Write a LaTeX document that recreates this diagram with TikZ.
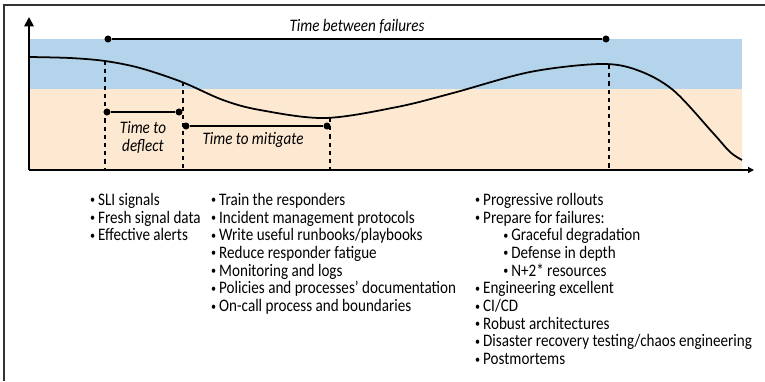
\documentclass[tikz,border=0pt]{standalone}
\usepackage{fontspec}
\setmainfont{Carlito}[FakeStretch=0.86]
\usetikzlibrary{positioning, calc, arrows.meta}
\definecolor{okblue}{HTML}{B3D4EA}
\definecolor{warnpeach}{HTML}{FDE8D2}
\tikzset{span line/.style={line width=1.6pt, black}}
\tikzset{span dot/.style={circle, fill=black, inner sep=0pt, minimum size=6pt}}
\tikzset{drop line/.style={line width=1.6pt, dash pattern=on 3.5pt off 3.5pt}}
\tikzset{span label/.style={font=\itshape\fontsize{15}{15.5}\selectfont, inner sep=0pt, align=center}}
\tikzset{item list/.style={align=left, anchor=north west, inner sep=0pt, font=\fontsize{15}{15.1}\selectfont}}
\newcommand{\itm}{\raisebox{1.3pt}{\fontsize{10}{10}\selectfont\textbullet}\,}

\begin{document}
\begin{tikzpicture}[x=0.03cm, y=-0.03cm]
\useasboundingbox (0,0) rectangle (765,381);
\fill[okblue] (29,39) rectangle (742,89);
\fill[warnpeach] (29,89) rectangle (742,170);
\draw[line width=1.2pt, black!80] (4,381) -- (4,5) -- (765,5);
\coordinate (o) at (29,170);
\coordinate (ytip) at (29,17);
\coordinate (xtip) at (754,170);
\draw[line width=1.6pt, -{Triangle[length=8pt,width=8pt]}] (o) -- (ytip);
\draw[line width=1.6pt, -{Triangle[length=5pt,width=5pt]}] (o) -- (xtip);
\draw[line width=1.5pt] plot[smooth, tension=0.55] coordinates {(29,57) (70,58) (105,61) (140,68) (182,82) (223,100) (260,110) (325,118) (397,107) (453,93) (530,72) (600,64) (637,70) (673,90) (713,133) (730,152) (742,160)};
\coordinate (fail) at (105,61);
\coordinate (deflected) at (183,82);
\coordinate (mitigated) at (330,118);
\coordinate (recovered) at (609,65);
\foreach \c in {fail, deflected, mitigated, recovered}
  \draw[drop line] (\c) -- (\c |- o);
\node[span dot] (tbf a) at (108,39) {};
\node[span dot] (tbf b) at (606,39) {};
\draw[span line] (tbf a) -- (tbf b) node[midway, above=4pt, span label] (tbf) {Time between failures};
\node[span dot] (ttd a) at (107,112) {};
\node[span dot] (ttd b) at (179,112) {};
\draw[span line] (ttd a) -- (ttd b) node[midway, below=7pt, span label] (ttd) {Time to\\deflect};
\node[span dot] (ttm a) at (186,126) {};
\node[span dot] (ttm b) at (327,126) {};
\draw[span line] (ttm a) -- (ttm b) node[midway, below=5pt, xshift=-3pt, span label] (ttm) {Time to mitigate};
\node[item list] (detect) at (90,193) {\itm SLI signals\\ \itm Fresh signal data\\ \itm Effective alerts};
\node[item list] (respond) at (211,193) {\itm Train the responders\\ \itm Incident management protocols\\ \itm Write useful runbooks/playbooks\\ \itm Reduce responder fatigue\\ \itm Monitoring and logs\\ \itm Policies and processes’ documentation\\ \itm On-call process and boundaries};
\node[item list] (prevent) at (475,193) {\itm Progressive rollouts\\ \itm Prepare for failures:\\ \hspace*{24pt}\itm Graceful degradation\\ \hspace*{24pt}\itm Defense in depth\\ \hspace*{24pt}\itm N+2* resources\\ \itm Engineering excellent\\ \itm CI/CD\\ \itm Robust architectures\\ \itm Disaster recovery testing/chaos engineering\\ \itm Postmortems};
\end{tikzpicture}
\end{document}
